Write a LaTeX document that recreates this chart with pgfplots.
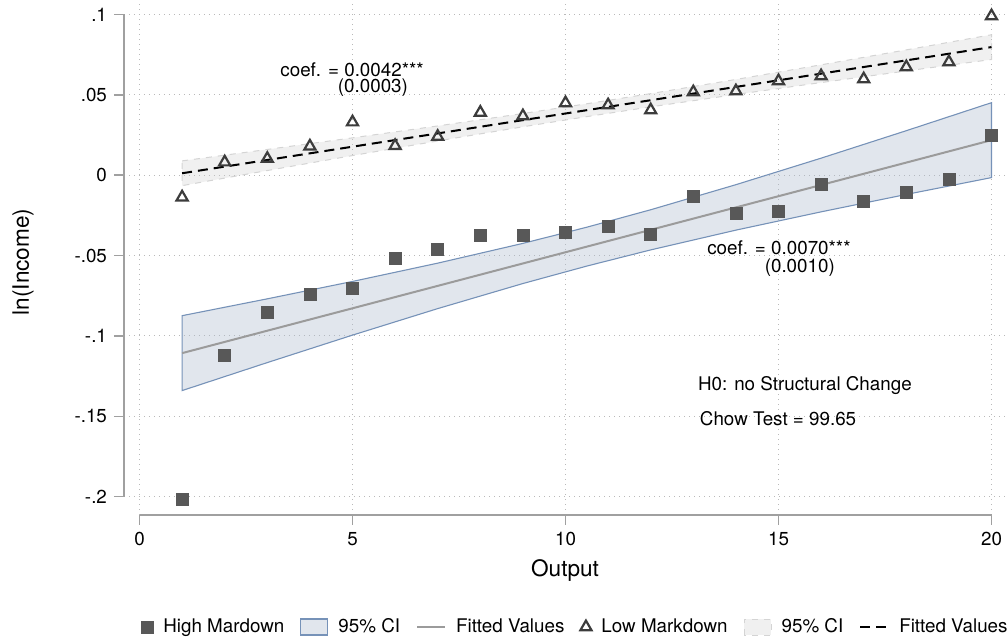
\documentclass[border=0pt]{standalone}
\usepackage{pgfplots}
\pgfplotsset{compat=1.18}
\usepackage{fontspec}
\setmainfont{TeX Gyre Heros}
\definecolor{hisq}{RGB}{88,88,88}
\definecolor{hiband}{RGB}{172,186,205}
\definecolor{hiedge}{RGB}{118,146,184}
\definecolor{hifit}{RGB}{155,155,155}
\definecolor{lotri}{RGB}{60,60,60}
\definecolor{loband}{RGB}{204,204,204}
\definecolor{loedge}{RGB}{212,212,212}
\definecolor{gridc}{RGB}{185,185,185}
\definecolor{axc}{RGB}{160,160,160}

\pgfplotsset{
  legmark/.style={legend image code/.code={\draw[##1] plot coordinates {(0pt,0pt)};}},
  legbox/.style={legend image code/.code={\draw[##1] (0pt,-4pt) rectangle (13.5pt,4pt);}},
  legline/.style={legend image code/.code={\draw[##1] (0pt,0pt) -- (14pt,0pt);}},
}

\pgfplotstableread{
x y
1 -0.2015
2 -0.1120
3 -0.0855
4 -0.0740
5 -0.0702
6 -0.0517
7 -0.0461
8 -0.0374
9 -0.0374
10 -0.0355
11 -0.0318
12 -0.0366
13 -0.0131
14 -0.0237
15 -0.0224
16 -0.0059
17 -0.0162
18 -0.0106
19 -0.0025
20 0.0249
}\hightable

\pgfplotstableread{
x y
1 -0.0137
2 0.0081
3 0.0103
4 0.0180
5 0.0330
6 0.0183
7 0.0240
8 0.0390
9 0.0368
10 0.0449
11 0.0436
12 0.0405
13 0.0517
14 0.0523
15 0.0586
16 0.0617
17 0.0598
18 0.0673
19 0.0704
20 0.0990
}\lowtable

\newcommand{\fs}{\fontsize{9.4}{11}\selectfont}

\begin{document}
\begin{tikzpicture}
\begin{axis}[
  at={(0,0)}, anchor=south west,
  scale only axis, width=442pt, height=257.5pt,
  xmin=-0.364, xmax=20.387, ymin=-0.2114, ymax=0.109,
  clip=false,
  xtick={0,5,10,15,20}, xticklabels={0,5,10,15,20},
  ytick={-0.2,-0.15,-0.1,-0.05,0,0.05,0.1},
  yticklabels={-.2,-.15,-.1,-.05,0,.05,.1},
  tick label style={font=\fs, black},
  tick align=outside, major tick length=5pt,
  xtick pos=bottom, ytick pos=left,
  tick style={axc, line width=0.8pt},
  axis line style={draw=none},
  grid=major,
  major grid style={gridc, line width=0.5pt, dash pattern=on 0.5pt off 2pt},
  xlabel={Output}, ylabel={ln(Income)},
  every axis x label/.style={at={(axis description cs:0.4989,-0.1087)}, anchor=center, font=\fontsize{11.3}{13}\selectfont},
  every axis y label/.style={at={(axis description cs:-0.1143,0.4913)}, rotate=90, anchor=center, font=\fontsize{11.3}{13}\selectfont},
  legend columns=6,
  legend cell align=left,
  legend style={at={(axis description cs:0.0192,-0.2175)}, anchor=west, draw=none, fill=none, inner sep=0pt, font=\fs,
    /tikz/every odd column/.append style={column sep=3pt},
    /tikz/every even column/.append style={column sep=6pt}},
]
\coordinate (O) at (rel axis cs:0,0);

% High markdown scatter
\addplot[only marks, mark=square*, mark size=3pt, draw=hisq, fill=hisq, legmark]
  table[x=x,y=y]{\hightable};
\addlegendentry{High Mardown}

% High CI band
\addplot[fill=hiband, fill opacity=0.365, draw=hiedge, line width=0.55pt, legbox]
  coordinates {
  (1,-0.0874) (3,-0.07692) (5,-0.0661) (7,-0.05472) (9,-0.04242) (10.5,-0.03236)
  (12,-0.02150) (14,-0.00590) (16,0.0106) (18,0.02769) (20,0.04511)
  (20,-0.00149) (18,-0.01197) (16,-0.0228) (14,-0.03418) (12,-0.04648)
  (10.5,-0.05654) (9,-0.06740) (7,-0.08300) (5,-0.0995) (3,-0.11658) (1,-0.1340)
  } -- cycle;
\addlegendentry{95\% CI}

% High fit
\addplot[hifit, line width=1pt, legline]
  coordinates {(1,-0.1107) (20,0.0218)};
\addlegendentry{Fitted Values}

% Low markdown scatter
\addplot[only marks, mark=triangle, mark size=3.2pt, draw=lotri, line width=1.1pt, legmark]
  table[x=x,y=y]{\lowtable};
\addlegendentry{Low Markdown}

% Low CI band
\addplot[fill=loband, fill opacity=0.3, draw=loedge, dashed, line width=0.5pt, legbox]
  coordinates {
  (1,0.0089) (3,0.01602) (5,0.02324) (7,0.03065) (9,0.03837) (10.5,0.04444)
  (12,0.05076) (14,0.05956) (16,0.06867) (18,0.07797) (20,0.08737)
  (20,0.07197) (18,0.06485) (16,0.05763) (14,0.05022) (12,0.04250)
  (10.5,0.03644) (9,0.03011) (7,0.02131) (5,0.01220) (3,0.00290) (1,-0.0065)
  } -- cycle;
\addlegendentry{95\% CI}

% Low fit
\addplot[black, line width=1pt, dash pattern=on 5pt off 3pt, legline]
  coordinates {(1,0.0012) (20,0.0797)};
\addlegendentry{Fitted Values}

% axis lines
\draw[axc, line width=0.8pt] (axis cs:-0.364,-0.2) -- (axis cs:-0.364,0.1);
\draw[axc, line width=0.8pt] (axis cs:0,-0.2114) -- (axis cs:20,-0.2114);

% annotations
\node[font=\fs] at (axis cs:4.99,0.0654) {coef. = 0.0042***};
\node[font=\fs] at (axis cs:5.48,0.0542) {(0.0003)};
\node[font=\fs] at (axis cs:15.01,-0.0449) {coef. = 0.0070***};
\node[font=\fs] at (axis cs:15.5,-0.0573) {(0.0010)};
\node[font=\fs] at (axis cs:15.62,-0.1308) {H0: no Structural Change};
\node[font=\fs] at (axis cs:14.99,-0.1514) {Chow Test = 99.65};
\end{axis}
\pgfresetboundingbox
\path[use as bounding box] ([shift={(-62pt,-63pt)}]O) rectangle ([shift={(442pt,257.5pt)}]O);
\end{tikzpicture}
\end{document}
